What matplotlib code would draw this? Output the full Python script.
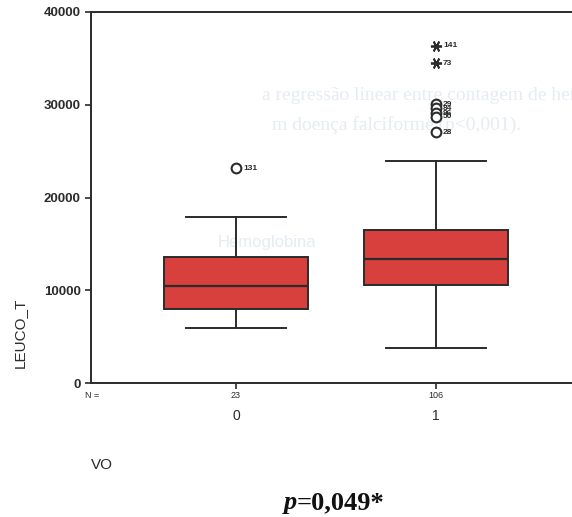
# -*- coding: utf-8 -*-
import matplotlib
matplotlib.use('Agg')
import matplotlib.pyplot as plt

# dados (LEUCO_T por VO)
groups = ['0', '1']
n_counts = [23, 106]
q1 = [7980, 10570]
median = [10490, 13370]
q3 = [13550, 16500]
whisker_low = [5960, 3740]
whisker_high = [17930, 23970]

# outliers (circulos) e extremos (asteriscos)
outlier_group = [1, 2, 2, 2, 2, 2]
outlier_values = [23130, 30080, 29600, 29110, 28680, 27060]
outlier_labels = ['131', '29', '84', '96', '50', '28']
extreme_group = [2, 2]
extreme_values = [36370, 34470]
extreme_labels = ['141', '73']

y_ticks = [0, 10000, 20000, 30000, 40000]

box_color = '#d8403e'
line_color = '#2b2b2b'

plt.rcParams['font.family'] = ['Liberation Sans', 'DejaVu Sans']

fig = plt.figure(figsize = (5.72, 5.17), dpi = 100)
ax = fig.add_axes([91 / 572, 1 - 383 / 517, 490 / 572, 371 / 517])

stats = []
for i in range(len(groups)):
    stats.append(dict(
        label = groups[i], med = median[i], q1 = q1[i], q3 = q3[i],
        whislo = whisker_low[i], whishi = whisker_high[i], fliers = [],
        ))

ax.bxp(
    stats,
    positions = [1, 2],
    widths = 0.72,
    capwidths = 0.5,
    patch_artist = True,
    showfliers = False,
    boxprops = dict(facecolor = box_color, edgecolor = line_color, linewidth = 1.4),
    medianprops = dict(color = line_color, linewidth = 1.6),
    whiskerprops = dict(color = line_color, linewidth = 1.4),
    capprops = dict(color = line_color, linewidth = 1.4),
    )

ax.plot(outlier_group, outlier_values, linestyle = 'none', marker = 'o',
        markersize = 7, markerfacecolor = 'white', markeredgecolor = line_color,
        markeredgewidth = 1.5, zorder = 5)
ax.plot(extreme_group, extreme_values, linestyle = 'none', marker = (6, 2, 90),
        markersize = 8, color = line_color, markeredgewidth = 1.3, zorder = 5)

for g, v, lab in zip(outlier_group + extreme_group, outlier_values + extreme_values,
                     outlier_labels + extreme_labels):
    ax.annotate(lab, (g, v), xytext = (5, 0), textcoords = 'offset points',
                fontsize = 6, fontweight = 'bold', color = line_color, va = 'center')

ax.set_xlim(0.275, 2.725)
ax.set_ylim(0, 40000)
ax.set_yticks(y_ticks)
ax.set_yticklabels([str(t) for t in y_ticks], fontsize = 9.5, fontweight = 'bold',
                   color = line_color)
ax.set_xticks([1, 2])
ax.set_xticklabels([])
ax.tick_params(axis = 'both', direction = 'out', length = 4, width = 1.2, color = line_color)
ax.spines['right'].set_visible(False)
for s in ['left', 'top', 'bottom']:
    ax.spines[s].set_linewidth(1.4)
    ax.spines[s].set_color(line_color)

# N = e categorias abaixo do eixo
ax.text(0.275 - 0.03, -1300, 'N =', fontsize = 6.5, color = line_color, ha = 'left', va = 'center')
for i in range(len(groups)):
    ax.text(i + 1, -1300, str(n_counts[i]), fontsize = 6.5, color = line_color,
            ha = 'center', va = 'center')
    ax.text(i + 1, -3600, groups[i], fontsize = 10, color = line_color,
            ha = 'center', va = 'center')

fig.text(20 / 572, 1 - 333 / 517, 'LEUCO_T', rotation = 90, fontsize = 11,
         color = line_color, ha = 'center', va = 'center')
fig.text(102 / 572, 1 - 465 / 517, 'VO', fontsize = 11, color = line_color,
         ha = 'center', va = 'center')
fig.text(297 / 572, 1 - 503 / 517, 'p', fontsize = 19,
         fontweight = 'bold', fontstyle = 'italic', family = 'Liberation Serif',
         ha = 'right', va = 'center', color = '#111111')
fig.text(297 / 572, 1 - 503 / 517, '=0,049*', fontsize = 19, fontweight = 'bold',
         family = 'Liberation Serif', ha = 'left', va = 'center', color = '#111111')

# texto fantasma do verso da pagina digitalizada (atras do grafico)
faint = '#e6ecf3'
fig.text(262 / 572, 1 - 95 / 517, 'a regressão linear entre contagem de hemácias e níveis',
         fontsize = 14, family = 'Liberation Serif', color = faint, va = 'center', zorder = -1)
fig.text(272 / 572, 1 - 125 / 517, 'm doença falciforme (p<0,001).',
         fontsize = 14, family = 'Liberation Serif', color = faint, va = 'center', zorder = -1)
fig.text(218 / 572, 1 - 243 / 517, 'Hemoglobina',
         fontsize = 12, color = faint, va = 'center', zorder = -1)
ax.patch.set_alpha(0)

fig.savefig('out.png', dpi = 100)
